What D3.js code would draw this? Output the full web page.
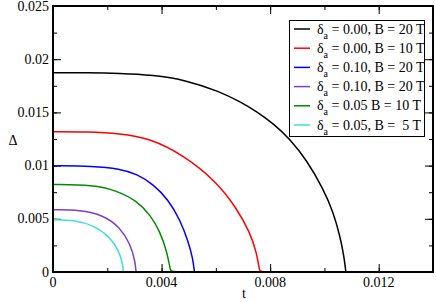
<!DOCTYPE html>
<html>
<head>
<meta charset="utf-8">
<script src="https://cdn.jsdelivr.net/npm/d3@7"></script>
<style>
  body { margin: 0; background: #fff; }
</style>
</head>
<body>
<svg width="436" height="302" font-family="'Liberation Serif', serif"></svg>
<script>
// values
var xTicks = [0, 0.004, 0.008, 0.012];
var xLabels = ["0", "0.004", "0.008", "0.012"];
var yTicks = [0, 0.005, 0.01, 0.015, 0.02, 0.025];
var yLabels = ["0", "0.005", "0.01", "0.015", "0.02", "0.025"];

var legendLabels = [
  "0.00, B = 20 T",
  "0.00, B = 10 T",
  "0.10, B = 20 T",
  "0.10, B = 20 T",
  "0.05 B = 10 T",
  "0.05, B =  5 T"
];

var tBlack = [0, 0.00123, 0.00246, 0.00368, 0.00490, 0.00615, 0.00689, 0.00750, 0.00812, 0.00873, 0.00935, 0.00996, 0.01033, 0.01057, 0.01072, 0.01079, 0.01079];
var dBlack = [0.01873, 0.01873, 0.01867, 0.01851, 0.01804, 0.01695, 0.01600, 0.01510, 0.01395, 0.01250, 0.01050, 0.00780, 0.00560, 0.00340, 0.00150, 0, 0];

var tRed = [0, 0.00123, 0.00246, 0.00357, 0.00480, 0.00603, 0.00677, 0.00726, 0.00750, 0.00762, 0.00762, 0.0123];
var dRed = [0.01319, 0.01318, 0.01303, 0.01256, 0.01100, 0.00849, 0.00598, 0.00370, 0.00185, 0, 0, 0];

var tBlue = [0, 0.00148, 0.00246, 0.00310, 0.00369, 0.00425, 0.00468, 0.00498, 0.00515, 0.00521, 0.00521];
var dBlue = [0.00998, 0.00996, 0.00970, 0.00920, 0.00825, 0.00680, 0.00490, 0.00290, 0.00129, 0, 0];

var tPurple = [0, 0.00099, 0.00185, 0.00247, 0.00284, 0.00302, 0.00306, 0.00306];
var dPurple = [0.00585, 0.00583, 0.00536, 0.00420, 0.00265, 0.00110, 0, 0];

var tGreen = [0, 0.00148, 0.00235, 0.00308, 0.00360, 0.00394, 0.00419, 0.00434, 0.00434, 0.0100];
var dGreen = [0.00822, 0.00818, 0.00765, 0.00670, 0.00533, 0.00379, 0.00200, 0, 0, 0];

var tCyan = [0, 0.00075, 0.00148, 0.00210, 0.00241, 0.00257, 0.00259, 0.00259];
var dCyan = [0.00492, 0.00489, 0.00442, 0.00330, 0.00205, 0.00082, 0, 0];

var colors = ["#000000", "#ff0000", "#0000ff", "#7b3fc9", "#008b00", "#40e0d0"];

var series = [
  [tBlack, dBlack], [tRed, dRed], [tBlue, dBlue],
  [tPurple, dPurple], [tGreen, dGreen], [tCyan, dCyan]
];

var svg = d3.select("svg");
// plot box ("top" is a window global, so prefixed names)
var pL = 53, pR = 433, pT = 6, pB = 272;

var x = d3.scaleLinear().domain([0, 0.014]).range([pL, pR]);
var y = d3.scaleLinear().domain([0, 0.025]).range([pB, pT]);

var xMinor = d3.range(0, 0.0141, 0.002);
var yMinor = d3.range(0, 0.0251, 0.0025);

function tickAxis(axis, vals, size) {
  return axis.tickValues(vals).tickSizeInner(size).tickSizeOuter(0).tickFormat("");
}

// minor + major ticks on all four sides, pointing inward
var g;
g = svg.append("g").attr("transform", "translate(0," + pB + ")");
g.call(tickAxis(d3.axisBottom(x), xMinor, -4));
g.append("g").call(tickAxis(d3.axisBottom(x), xTicks, -8));
g = svg.append("g").attr("transform", "translate(0," + pT + ")");
g.call(tickAxis(d3.axisTop(x), xMinor, -4));
g.append("g").call(tickAxis(d3.axisTop(x), xTicks, -8));
g = svg.append("g").attr("transform", "translate(" + pL + ",0)");
g.call(tickAxis(d3.axisLeft(y), yMinor, -4));
g.append("g").call(tickAxis(d3.axisLeft(y), yTicks, -8));
g = svg.append("g").attr("transform", "translate(" + pR + ",0)");
g.call(tickAxis(d3.axisRight(y), yMinor, -4));
g.append("g").call(tickAxis(d3.axisRight(y), yTicks, -8));
svg.selectAll(".domain").remove();
svg.selectAll(".tick line").attr("stroke", "#000").attr("stroke-width", 1);

// tick labels
svg.append("g").selectAll("text").data(xTicks).enter().append("text")
  .attr("x", function(d) { return x(d); })
  .attr("y", 287)
  .attr("text-anchor", "middle")
  .attr("font-size", 14)
  .text(function(d, i) { return xLabels[i]; });

svg.append("g").selectAll("text").data(yTicks).enter().append("text")
  .attr("x", 49)
  .attr("y", function(d) { return y(d) + 4.5; })
  .attr("text-anchor", "end")
  .attr("font-size", 14)
  .text(function(d, i) { return yLabels[i]; });

// axis titles
svg.append("text").attr("x", 244).attr("y", 298).attr("text-anchor", "middle")
  .attr("font-size", 14).text("t");
svg.append("text").attr("x", 13).attr("y", 145).attr("text-anchor", "middle")
  .attr("font-size", 14).text("Δ");

// curves
svg.append("clipPath").attr("id", "plot").append("rect")
  .attr("x", pL).attr("y", pT).attr("width", pR - pL).attr("height", pB - pT);

var line = d3.line()
  .x(function(d) { return x(d[0]); })
  .y(function(d) { return y(d[1]); })
  .curve(d3.curveBasis);

svg.append("g").attr("clip-path", "url(#plot)")
  .selectAll("path").data(series).enter().append("path")
  .attr("fill", "none")
  .attr("stroke", function(d, i) { return colors[i]; })
  .attr("stroke-width", 1.5)
  .attr("d", function(d) { return line(d3.zip(d[0], d[1])); });

// frame
svg.append("rect")
  .attr("x", pL).attr("y", pT).attr("width", pR - pL).attr("height", pB - pT)
  .attr("fill", "none").attr("stroke", "#000").attr("stroke-width", 2);

// legend
var lg = svg.append("g");
lg.append("rect").attr("x", 289.5).attr("y", 20.5).attr("width", 135).attr("height", 116)
  .attr("fill", "#fff").attr("stroke", "#000").attr("stroke-width", 1);

var rows = lg.selectAll("g.row").data(legendLabels).enter().append("g")
  .attr("transform", function(d, i) { return "translate(0," + (29 + i * 19.2) + ")"; });
rows.append("line").attr("x1", 294).attr("x2", 310).attr("y1", 0).attr("y2", 0)
  .attr("stroke", function(d, i) { return colors[i]; }).attr("stroke-width", 1.5);
var txt = rows.append("text").attr("x", 317).attr("y", 4.5)
  .attr("font-size", 14).style("white-space", "pre").attr("xml:space", "preserve");
txt.append("tspan").text("δ");
txt.append("tspan").attr("dy", 5).attr("font-size", 10).text("a");
txt.append("tspan").attr("dy", -5).text(function(d) { return " = " + d; });
</script>
</body>
</html>
